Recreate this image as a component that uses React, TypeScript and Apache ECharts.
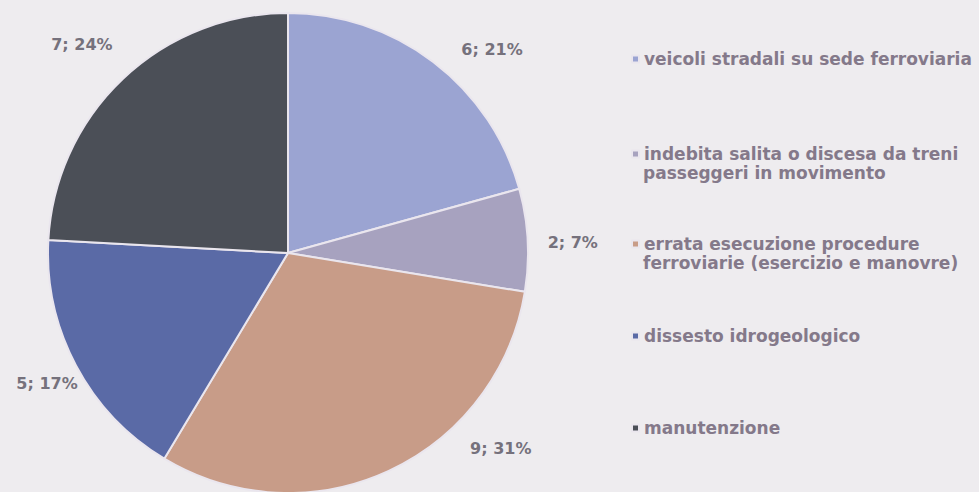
import React, { useEffect, useRef } from 'react';
import * as echarts from 'echarts';

const categories = [
  'veicoli stradali su sede ferroviaria',
  'indebita salita o discesa da treni passeggeri in movimento',
  'errata esecuzione procedure ferroviarie (esercizio e manovre)',
  'dissesto idrogeologico',
  'manutenzione',
];
const legendFirstLines = [
  'veicoli stradali su sede ferroviaria',
  'indebita salita o discesa da treni',
  'errata esecuzione procedure',
  'dissesto idrogeologico',
  'manutenzione',
];
const legendSecondLines = ['', 'passeggeri in movimento', 'ferroviarie (esercizio e manovre)', '', ''];
const values = [6, 2, 9, 5, 7];

const colors = ['#9ba4d2', '#a7a2bf', '#c89c88', '#5a6aa6', '#4b4f57'];
const legendCenters = [59, 154, 244, 336, 428];
const labelOffsets = [
  [14, 0],
  [0, 3],
  [70, -36],
  [20, 11],
  [5, -23],
];

const FONT = '"DejaVu Sans", sans-serif';
const TEXT_COLOR = '#84798a';
const LABEL_COLOR = '#75717c';

export default function App() {
  const ref = useRef<HTMLDivElement>(null);
  useEffect(() => {
    document.body.style.margin = '0';
    const chart = echarts.init(ref.current!, undefined, { renderer: 'svg' });
    const legends = categories.map((name, i) => ({
      orient: 'vertical',
      left: 631,
      top: legendCenters[i] - 9,
      data: [name],
      icon: 'rect',
      itemWidth: 7,
      itemHeight: 7,
      itemGap: 0,
      padding: 0,
      selectedMode: false,
      formatter: () => legendFirstLines[i],
      textStyle: {
        fontFamily: FONT,
        fontSize: 17,
        fontWeight: 'bold',
        color: TEXT_COLOR,
        lineHeight: 18,
      },
    }));
    const graphics = legendSecondLines
      .map((t, i) => ({ t, i }))
      .filter((o) => o.t)
      .map((o) => ({
        type: 'text',
        x: 643,
        y: legendCenters[o.i] + 19,
        style: {
          text: o.t,
          font: `bold 17px ${FONT}`,
          fill: TEXT_COLOR,
          verticalAlign: 'middle',
          align: 'left',
        },
      }));
    chart.setOption({
      animation: false,
      backgroundColor: '#eeecef',
      color: colors,
      legend: legends,
      graphic: graphics,
      series: [
        {
          type: 'pie',
          center: [288, 253],
          radius: 240,
          startAngle: 90,
          clockwise: true,
          avoidLabelOverlap: false,
          itemStyle: { borderColor: '#eae6ee', borderWidth: 2 },
          label: {
            show: true,
            position: 'outside',
            fontFamily: FONT,
            fontSize: 16,
            fontWeight: 'bold',
            color: LABEL_COLOR,
            formatter: (p: any) => `${p.value}; ${Math.round(p.percent)}%`,
          },
          labelLine: { show: false, length: 15, length2: 0 },
          labelLayout: (p: any) => ({ dx: labelOffsets[p.dataIndex][0], dy: labelOffsets[p.dataIndex][1] }),
          emphasis: { disabled: true },
          data: categories.map((name, i) => ({ name, value: values[i] })),
        },
      ],
    });
    return () => chart.dispose();
  }, []);
  return <div ref={ref} style={{ width: 979, height: 492 }} />;
}
